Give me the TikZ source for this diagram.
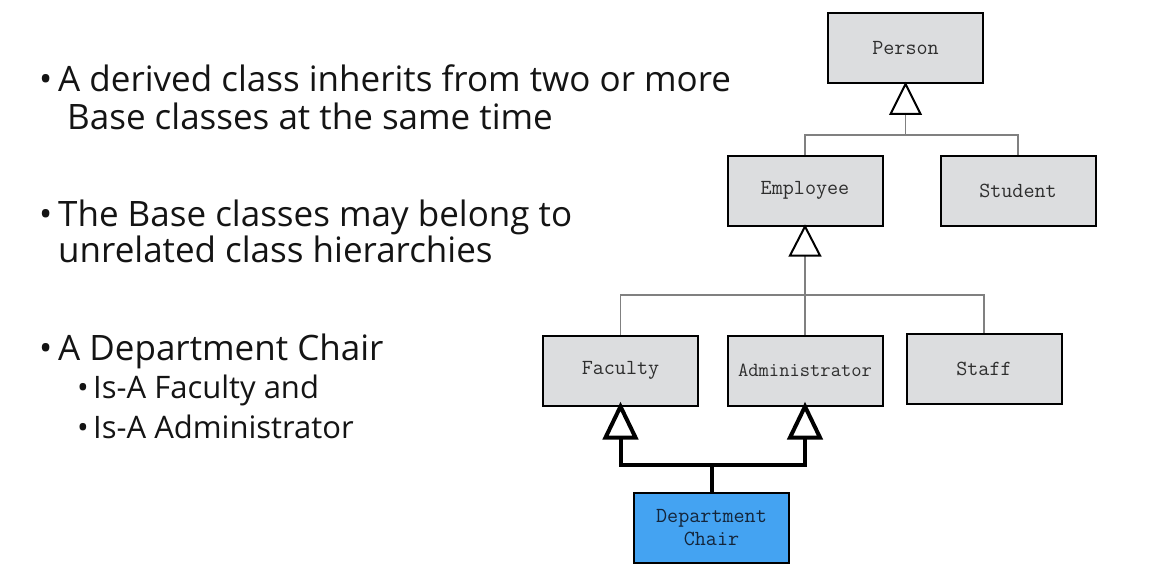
\documentclass[tikz,border=0pt]{standalone}
\usepackage{fontspec}
\setmainfont{Open Sans}
\usetikzlibrary{calc}
\definecolor{boxfill}{HTML}{DCDDDF}
\definecolor{chairfill}{HTML}{44A3F2}
\definecolor{boxtext}{HTML}{2E2E2E}
\definecolor{chairtext}{HTML}{14253A}
\definecolor{linegray}{HTML}{808080}
\definecolor{txt}{HTML}{141414}
\tikzset{
  cls/.style={draw=black, line width=2pt, fill=boxfill, minimum width=155pt, minimum height=70pt, inner sep=0pt, font=\fontsize{21.5}{23}\ttfamily, text=boxtext, align=center},
  conn/.style={draw=linegray, line width=1.2pt},
  tri/.style={draw=black, line width=2pt, fill=white, line join=miter},
  boldtri/.style={draw=black, line width=4pt, fill=white, line join=miter},
  boldconn/.style={draw=black, line width=4pt},
  bigtxt/.style={anchor=base west, inner sep=0pt, text=txt, font=\fontsize{35}{42}\selectfont},
  subtxt/.style={anchor=base west, inner sep=0pt, text=txt, font=\fontsize{31}{37}\selectfont},
}
\begin{document}
\begin{tikzpicture}[x=1pt, y=-1pt]
\useasboundingbox (0,0) rectangle (1169,583);
% text
\node[bigtxt] (b1) at (39,92) {•};
\node[bigtxt] (t1) at (58,92) {A derived class inherits from two or more};
\node[bigtxt] (t1b) at (67,130) {Base classes at the same time};
\node[bigtxt] (b2) at (39,226) {•};
\node[bigtxt] (t2) at (58,226) {The Base classes may belong to};
\node[bigtxt] (t2b) at (58,262) {unrelated class hierarchies};
\node[bigtxt] (b3) at (39,360) {•};
\node[bigtxt] (t3) at (58,360) {A Department Chair};
\node[subtxt] (b4) at (77,398) {•};
\node[subtxt] (t4) at (93,398) {Is-A Faculty and};
\node[subtxt] (b5) at (77,438) {•};
\node[subtxt] (t5) at (93,438) {Is-A Administrator};
% boxes
\node[cls] (person) at (905.5,48) {Person};
\node[cls] (employee) at (805,190.5) {Employee};
\node[cls] (student) at (1018,190.5) {Student};
\node[cls] (faculty) at (620.5,370.5) {Faculty};
\node[cls, font=\fontsize{20}{22}\ttfamily] (admin) at (805,370.5) {Administrator};
\node[cls] (staff) at (984,368.5) {Staff};
\node[cls, fill=chairfill, text=chairtext] (chair) at (711.5,528) {Department\\Chair};
% connectors level 1
\coordinate (pbase) at ($(person.south)+(0,30)$);
\coordinate (bus1) at (person.south |- 0,135);
\draw[conn] (employee.north) |- (bus1) -| (student.north);
\draw[conn] (pbase) -- (bus1);
\draw[tri] (person.south) -- ++(-15,30) -- ++(30,0) -- cycle;
% connectors level 2
\coordinate (ebase) at ($(employee.south)+(0,29)$);
\coordinate (bus2) at (employee.south |- 0,295);
\draw[conn] (faculty.north) |- (bus2) -| (staff.north);
\draw[conn] (admin.north) -- (ebase);
\draw[tri] (employee.south) -- ++(-15,29) -- ++(30,0) -- cycle;
% multiple inheritance
\coordinate (fbase) at ($(faculty.south)+(0,31)$);
\coordinate (abase) at ($(admin.south)+(0,31)$);
\coordinate (bus3) at (chair.north |- 0,465);
\draw[boldconn, line join=miter] (fbase) |- (abase |- bus3) -- (abase);
\draw[boldconn] (chair.north) -- (bus3);
\draw[boldtri] (faculty.south) -- ++(-15,31) -- ++(30,0) -- cycle;
\draw[boldtri] (admin.south) -- ++(-15,31) -- ++(30,0) -- cycle;
\end{tikzpicture}
\end{document}
